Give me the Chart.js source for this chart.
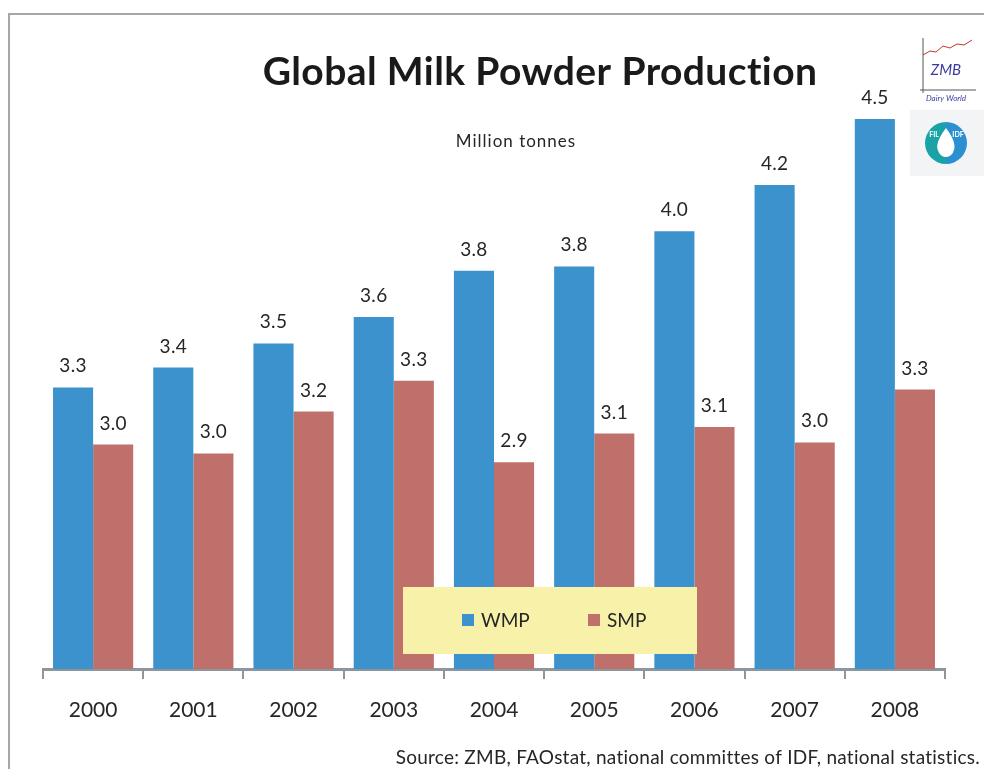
<!DOCTYPE html>
<html>
<head>
<meta charset="utf-8">
<title>Global Milk Powder Production</title>
<script src="https://cdn.jsdelivr.net/npm/chart.js@4/dist/chart.umd.min.js"></script>
<style>
  html, body { margin: 0; padding: 0; background: #ffffff; }
  #wrap { position: relative; width: 984px; height: 769px; overflow: hidden; }
  canvas { display: block; }
</style>
</head>
<body>
<div id="wrap"><canvas id="chart" width="984" height="769"></canvas></div>
<script>
// Production years (x categories)
const years = ['2000', '2001', '2002', '2003', '2004', '2005', '2006', '2007', '2008'];
// Whole milk powder, million tonnes
const wmp = [3.28, 3.37, 3.48, 3.60, 3.81, 3.83, 3.99, 4.20, 4.50];
// Skimmed milk powder, million tonnes
const smp = [3.02, 2.98, 3.17, 3.31, 2.94, 3.07, 3.10, 3.03, 3.27];
const seriesNames = ['WMP', 'SMP'];
const seriesColors = ['#3b92cc', '#c0706a'];

const titleText = 'Global Milk Powder Production';
const unitText = 'Million tonnes';
const sourceText = 'Source: ZMB, FAOstat, national committes of IDF, national statistics.';

const FONT = 'Lato, "Open Sans", "Noto Sans", sans-serif';
const TEXT = '#262626';
const AXIS = '#8e969d';

function spaced(ctx, px) {
  if ('letterSpacing' in ctx) ctx.letterSpacing = px + 'px';
}

// Outer frame, heading, unit note, source line and small logos
const decorations = {
  id: 'decorations',
  beforeDraw(chart) {
    const ctx = chart.ctx;
    ctx.save();
    ctx.fillStyle = '#ffffff';
    ctx.fillRect(0, 0, chart.width, chart.height);
    ctx.strokeStyle = '#a3a8ad';
    ctx.lineWidth = 2;
    ctx.beginPath();
    ctx.moveTo(9, chart.height + 2);
    ctx.lineTo(9, 14);
    ctx.lineTo(chart.width + 2, 14);
    ctx.stroke();
    ctx.restore();
  },
  afterDraw(chart) {
    const ctx = chart.ctx;
    ctx.save();
    ctx.fillStyle = '#1a1a1a';
    ctx.textAlign = 'center';
    ctx.textBaseline = 'alphabetic';
    ctx.font = 'bold 39px ' + FONT;
    spaced(ctx, 0.4);
    ctx.fillText(titleText, 540, 85);

    ctx.fillStyle = TEXT;
    ctx.font = '17px ' + FONT;
    spaced(ctx, 1);
    ctx.fillText(unitText, 516, 147);

    ctx.textAlign = 'right';
    ctx.font = '19px ' + FONT;
    spaced(ctx, 0.25);
    ctx.fillText(sourceText, 980, 764);
    spaced(ctx, 0);

    // ZMB mark
    ctx.strokeStyle = '#555555';
    ctx.lineWidth = 1;
    ctx.beginPath();
    ctx.moveTo(923, 38); ctx.lineTo(923, 93);
    ctx.moveTo(920, 90); ctx.lineTo(976, 90);
    ctx.stroke();
    ctx.strokeStyle = '#c0392b';
    ctx.beginPath();
    ctx.moveTo(923, 55); ctx.lineTo(930, 51); ctx.lineTo(936, 52); ctx.lineTo(943, 46);
    ctx.lineTo(950, 48); ctx.lineTo(957, 44); ctx.lineTo(964, 45); ctx.lineTo(972, 40);
    ctx.stroke();
    ctx.fillStyle = '#3a3aa0';
    ctx.textAlign = 'center';
    ctx.font = 'italic 15px ' + FONT;
    ctx.fillText('ZMB', 946, 75);
    ctx.font = 'italic 8px ' + FONT;
    ctx.fillText('Dairy World', 946, 101);

    // IDF mark
    ctx.fillStyle = '#f2f4f6';
    ctx.fillRect(910, 110, 74, 66);
    ctx.fillStyle = '#1aa3a6';
    ctx.beginPath();
    ctx.arc(946, 143, 21, Math.PI / 2, Math.PI * 1.5);
    ctx.fill();
    ctx.fillStyle = '#2b8fd0';
    ctx.beginPath();
    ctx.arc(946, 143, 21, -Math.PI / 2, Math.PI / 2);
    ctx.fill();
    ctx.fillStyle = '#ffffff';
    ctx.beginPath();
    ctx.moveTo(946, 128);
    ctx.quadraticCurveTo(958, 144, 953, 152);
    ctx.arc(946, 149, 8, 0.3, Math.PI - 0.3);
    ctx.quadraticCurveTo(934, 144, 946, 128);
    ctx.fill();
    ctx.font = 'bold 7px ' + FONT;
    ctx.fillText('FIL', 934, 137);
    ctx.fillText('IDF', 958, 137);
    ctx.restore();
  }
};

// Values printed above each bar
const valueLabels = {
  id: 'valueLabels',
  afterDatasetsDraw(chart) {
    const ctx = chart.ctx;
    ctx.save();
    ctx.fillStyle = TEXT;
    ctx.font = '19px ' + FONT;
    spaced(ctx, 0.3);
    ctx.textAlign = 'center';
    ctx.textBaseline = 'alphabetic';
    chart.data.datasets.forEach((ds, i) => {
      chart.getDatasetMeta(i).data.forEach((bar, j) => {
        ctx.fillText(ds.data[j].toFixed(1), bar.x, bar.y - 15);
      });
    });
    ctx.restore();
  }
};

// Yellow legend panel sitting over the bars
const legendBox = {
  id: 'legendBox',
  afterDatasetsDraw(chart) {
    const ctx = chart.ctx;
    ctx.save();
    ctx.fillStyle = '#f7f1a9';
    ctx.fillRect(403, 587, 294, 67);
    const itemX = [462, 588];
    ctx.font = '19px ' + FONT;
    ctx.textBaseline = 'middle';
    ctx.textAlign = 'left';
    chart.data.datasets.forEach((ds, i) => {
      ctx.fillStyle = ds.backgroundColor;
      ctx.fillRect(itemX[i], 614, 12, 12);
      ctx.fillStyle = TEXT;
      ctx.fillText(ds.label, itemX[i] + 19, 621);
    });
    ctx.restore();
  }
};

function draw() {
  new Chart(document.getElementById('chart'), {
    type: 'bar',
    data: {
      labels: years,
      datasets: [
        { label: seriesNames[0], data: wmp, backgroundColor: seriesColors[0] },
        { label: seriesNames[1], data: smp, backgroundColor: seriesColors[1] }
      ]
    },
    options: {
      responsive: false,
      animation: false,
      devicePixelRatio: 1,
      categoryPercentage: 0.8,
      barPercentage: 1.0,
      layout: { padding: { left: 43, right: 39, top: 97, bottom: 0 } },
      plugins: {
        legend: { display: false },
        tooltip: { enabled: false },
        title: { display: false }
      },
      scales: {
        x: {
          grid: {
            offset: true,
            drawOnChartArea: false,
            drawTicks: true,
            tickLength: 10,
            color: AXIS,
            lineWidth: 2
          },
          border: { display: true, color: AXIS, width: 3 },
          ticks: { color: TEXT, font: { family: FONT, size: 21 }, padding: 19 },
          afterFit(scale) { scale.height = 100; }
        },
        y: { display: false, min: 2, max: 4.6 }
      }
    },
    plugins: [decorations, valueLabels, legendBox]
  });
}

const fontLoads = ['bold 39px Lato', '19px Lato', 'italic 15px Lato'].map(f => document.fonts.load(f));
Promise.all(fontLoads).then(draw, draw);
</script>
</body>
</html>
